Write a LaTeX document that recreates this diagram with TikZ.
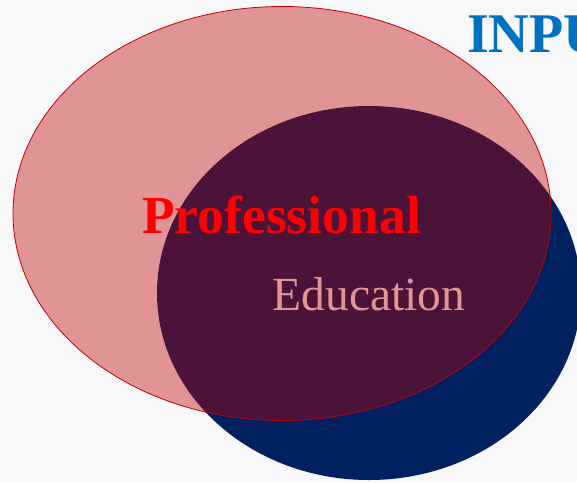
\documentclass[tikz,border=0pt]{standalone}
\usepackage{fontspec}
\setmainfont{Liberation Serif}
\definecolor{bgwhite}{RGB}{248,248,250}
\definecolor{eduNavy}{RGB}{0,32,96}
\definecolor{profRed}{RGB}{192,0,0}
\definecolor{labelRed}{RGB}{255,0,0}
\definecolor{labelPink}{RGB}{226,150,150}
\definecolor{inputBlue}{RGB}{0,112,192}

\begin{document}
\begin{tikzpicture}[x=1pt, y=-1pt,
        profset/.style={draw=profRed, line width=0.8pt, fill=profRed, fill opacity=0.4},
        eduset/.style={fill=eduNavy},
        biglabel/.style={anchor=base, inner sep=0pt}]
        \fill[bgwhite] (0,0) rectangle (577,482);
        \useasboundingbox (0,0) rectangle (577,482);
        \clip (0,0) rectangle (577,482);
        % the two sets
        \fill[eduset] (369,293) ellipse [x radius=212pt, y radius=187pt];
        \filldraw[profset] (282,213.5) ellipse [x radius=269pt, y radius=207pt];
        % labels
        \node[biglabel, text=labelRed, font=\fontsize{53.6}{60}\selectfont\bfseries] (prof) at (281.5,233) {Professional};
        \node[biglabel, text=labelPink, font=\fontsize{47.5}{54}\selectfont] (edu) at (369,310) {Education};
        \node[biglabel, anchor=base west, text=inputBlue, font=\fontsize{56}{62}\selectfont\bfseries] (inpu) at (467,52) {INPU};
    \end{tikzpicture}
\end{document}
